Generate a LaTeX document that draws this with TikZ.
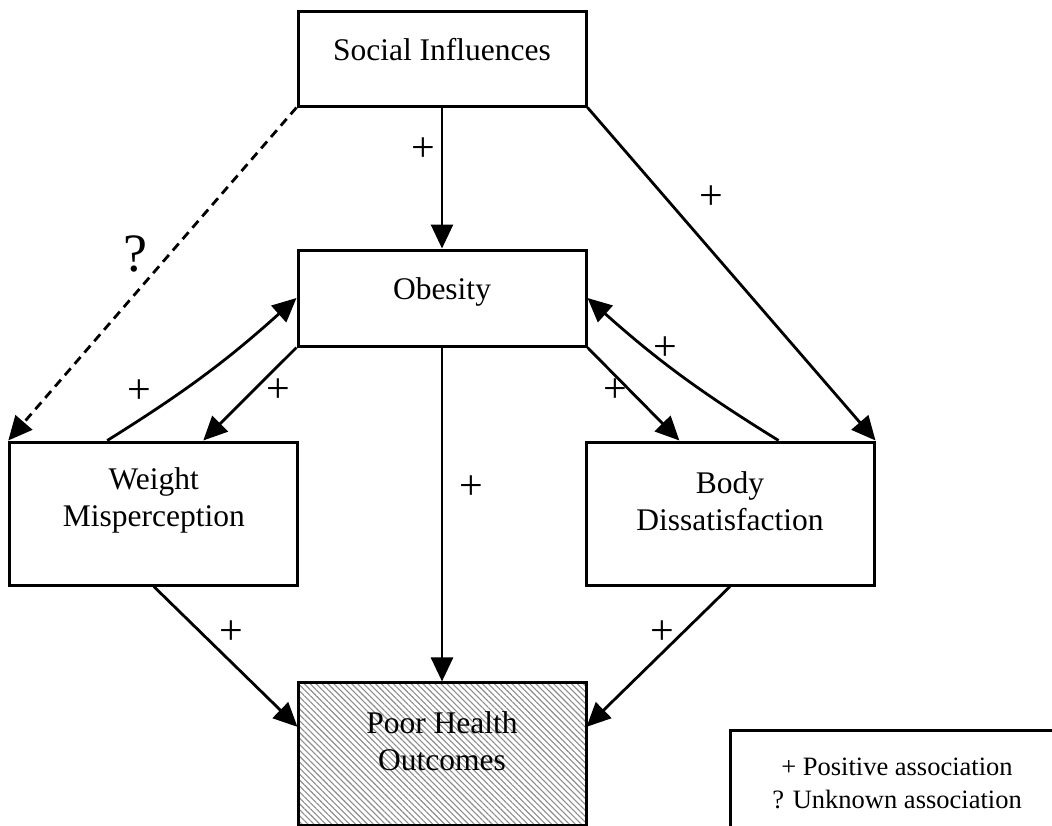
\documentclass[tikz,border=0pt]{standalone}
\usepackage{fontspec}
\setmainfont{Liberation Serif}
\usetikzlibrary{arrows.meta, patterns.meta, calc}

\tikzset{
  box/.style={draw, line width=3pt, minimum width=288pt, inner sep=0pt},
  boxtext/.style={align=center, font=\fontsize{31.5}{37}\selectfont},
  link/.style={line width=2.8pt, -{Triangle[length=24pt,width=22pt]}},
  sign/.style={font=\fontsize{42}{42}\selectfont, inner sep=0pt},
}

\begin{document}
\begin{tikzpicture}[x=1pt, y=-1pt]

 %% frame of the picture
 \useasboundingbox (0,0) rectangle (1052,825);

 %%Parameters
 %% middle column and row positions, can be modified
 \def\midX{442}
 \def\sideY{513.5}

 %% ***Boxes***
 \node[box, minimum height=95pt, label={[boxtext, yshift=9pt]center:Social Influences}] (soc) at (\midX, 58.5) {};
 \node[box, minimum height=96pt, label={[boxtext, yshift=6pt]center:Obesity}] (obs) at (\midX, 298) {};
 \node[box, minimum height=143pt, label={[boxtext, yshift=13pt]center:Weight\\Misperception}] (wmis) at (153.8, \sideY) {};
 \node[box, minimum height=143pt, label={[boxtext, yshift=12pt]center:Body\\Dissatisfaction}] (bdis) at (730, \sideY) {};
 \node[box, minimum height=143pt, pattern={Lines[angle=-45, distance=4.2pt, line width=1.1pt]}, pattern color=black!45,
       label={[boxtext, yshift=12pt]center:Poor Health\\Outcomes}] (poor) at (\midX, 753.5) {};

 %% Legend
 \node[draw, line width=3pt, minimum width=334pt, minimum height=107pt, align=center,
       font=\fontsize{26.5}{33}\selectfont] (leg) at (897, 783.5) {+ Positive association\\? Unknown association};

 %% ***Links from Social Influences***
 \draw[link] (soc.south) -- node[sign, pos=0.3, xshift=-19pt]{+} (obs.north);
 \draw[link, dash pattern=on 9pt off 6pt] (soc.south west) -- node[pos=0.44, xshift=-34pt, inner sep=0pt, font=\fontsize{54}{54}\selectfont]{?} (wmis.north west);
 \draw[link] (soc.south east) -- node[sign, pos=0.27, xshift=46pt]{+} (bdis.north east);

 %% Obesity <-> Weight Misperception
 \draw[link] (obs.south west) -- node[sign, pos=0.46, xshift=25pt]{+} ($(wmis.north west)!0.67!(wmis.north east)$);
 \draw[link] ($(wmis.north west)!0.34!(wmis.north east)$) to[bend right=5] node[sign, pos=0.36, xshift=-41pt]{+} (obs.west);

 %% Obesity <-> Body Dissatisfaction
 \draw[link] (obs.south east) -- node[sign, pos=0.46, xshift=-14pt]{+} ($(bdis.north west)!0.326!(bdis.north east)$);
 \draw[link] ($(bdis.north west)!0.667!(bdis.north east)$) to[bend left=5] node[sign, pos=0.69, xshift=19pt]{+} (obs.east);

 %% Into Poor Health Outcomes
 \draw[link] (obs.south) -- node[sign, pos=0.42, xshift=29.5pt]{+} (poor.north);
 % Weight Misperception
 \draw[link] (wmis.south) -- node[sign, pos=0.33, xshift=30pt]{+} ($(poor.north west)!0.315!(poor.south west)$);
 % Body Dissatisfaction
 \draw[link] (bdis.south) -- node[sign, pos=0.33, xshift=-20pt]{+} ($(poor.north east)!0.315!(poor.south east)$);

\end{tikzpicture}
\end{document}
